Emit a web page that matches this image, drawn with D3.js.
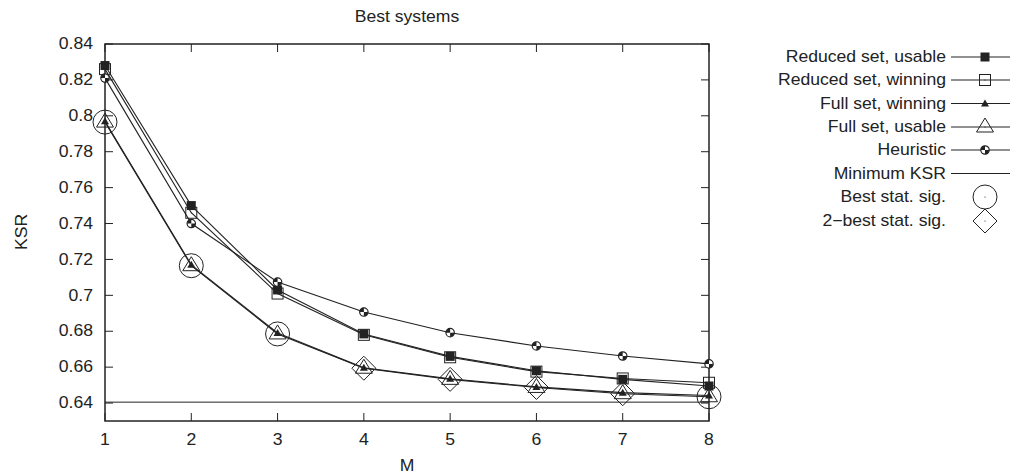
<!DOCTYPE html>
<html>
<head>
<meta charset="utf-8">
<script src="https://cdn.jsdelivr.net/npm/d3@7"></script>
<style>
  body { margin: 0; background: #fff; }
  text { font-family: "Liberation Sans", Arial, sans-serif; font-size: 16px; fill: #222; }
</style>
</head>
<body>
<script>
// values
var mValues = [1, 2, 3, 4, 5, 6, 7, 8];
var reducedUsable  = [0.828, 0.750, 0.703, 0.6785, 0.666, 0.658, 0.6532, 0.6495];
var reducedWinning = [0.826, 0.746, 0.701, 0.678, 0.6655, 0.6575, 0.6537, 0.6513];
var fullWinning    = [0.797, 0.717, 0.679, 0.6596, 0.6535, 0.649, 0.6458, 0.6442];
var fullUsable     = [0.7965, 0.7165, 0.6785, 0.6594, 0.6532, 0.6487, 0.6452, 0.6435];
var heuristic      = [0.821, 0.740, 0.7074, 0.6907, 0.6792, 0.6718, 0.6662, 0.6618];
var minimumKSR = 0.6405;
var bestSig = [1, 2, 3, 8];
var secondBestSig = [4, 5, 6, 7];
var yTicks = [0.64, 0.66, 0.68, 0.7, 0.72, 0.74, 0.76, 0.78, 0.8, 0.82, 0.84];
var legendLabels = ['Reduced set, usable', 'Reduced set, winning', 'Full set, winning',
  'Full set, usable', 'Heuristic', 'Minimum KSR', 'Best stat. sig.', '2\u2212best stat. sig.'];

var ink = '#222';

var svg = d3.select('body').append('svg')
    .attr('width', 1013)
    .attr('height', 474);

var x = d3.scaleLinear().domain([1, 8]).range([105, 709]);
var y = d3.scaleLinear().domain([0.63, 0.84]).range([421, 44]);

function label(str, px, py, anchor, rot) {
  svg.append('text')
    .attr('transform', 'translate(' + px + ',' + py + ')' + (rot ? ' rotate(' + rot + ')' : '') + ' scale(1.1,1)')
    .attr('text-anchor', anchor)
    .attr('dominant-baseline', 'central')
    .text(str);
}

// frame
svg.append('rect')
    .attr('x', x(1)).attr('y', y(0.84))
    .attr('width', x(8) - x(1)).attr('height', y(0.63) - y(0.84))
    .attr('fill', 'none').attr('stroke', ink).attr('stroke-width', 1.5);

// ticks, mirrored on both sides
var tl = 8;
yTicks.forEach(function(t) {
  svg.append('line').attr('x1', x(1)).attr('x2', x(1) + tl).attr('y1', y(t)).attr('y2', y(t)).attr('stroke', ink);
  svg.append('line').attr('x1', x(8)).attr('x2', x(8) - tl).attr('y1', y(t)).attr('y2', y(t)).attr('stroke', ink);
  label(String(+t.toFixed(2)), 93, y(t), 'end');
});
mValues.forEach(function(m) {
  svg.append('line').attr('x1', x(m)).attr('x2', x(m)).attr('y1', y(0.63)).attr('y2', y(0.63) - tl).attr('stroke', ink);
  svg.append('line').attr('x1', x(m)).attr('x2', x(m)).attr('y1', y(0.84)).attr('y2', y(0.84) + tl).attr('stroke', ink);
  label(String(m), x(m), 440, 'middle');
});

label('Best systems', 407, 17, 'middle');
label('M', 407, 466, 'middle');
label('KSR', 22, 232, 'middle', -90);

// marker drawing
function marker(g, kind, cx, cy) {
  if (kind === 'fsq') {
    g.append('rect').attr('x', cx - 4.5).attr('y', cy - 4.5).attr('width', 9).attr('height', 9).attr('fill', ink);
  } else if (kind === 'osq') {
    g.append('rect').attr('x', cx - 5.5).attr('y', cy - 5.5).attr('width', 11).attr('height', 11)
      .attr('fill', 'none').attr('stroke', ink);
    g.append('circle').attr('cx', cx).attr('cy', cy).attr('r', 0.6).attr('fill', ink);
  } else if (kind === 'ftri') {
    g.append('path').attr('d', 'M' + (cx - 4) + ',' + (cy + 3) + 'L' + (cx + 4) + ',' + (cy + 3) + 'L' + cx + ',' + (cy - 4) + 'Z')
      .attr('fill', ink);
  } else if (kind === 'otri') {
    g.append('path').attr('d', 'M' + (cx - 8.5) + ',' + (cy + 5) + 'L' + (cx + 8.5) + ',' + (cy + 5) + 'L' + cx + ',' + (cy - 9) + 'Z')
      .attr('fill', 'none').attr('stroke', ink);
    g.append('circle').attr('cx', cx).attr('cy', cy).attr('r', 0.6).attr('fill', ink);
  } else if (kind === 'heur') {
    var r = 4.2;
    g.append('circle').attr('cx', cx).attr('cy', cy).attr('r', r).attr('fill', '#fff').attr('stroke', ink).attr('stroke-width', 1.2);
    g.append('path').attr('d', 'M' + cx + ',' + cy + 'L' + (cx - r) + ',' + cy + 'A' + r + ',' + r + ' 0 0,1 ' + cx + ',' + (cy - r) + 'Z').attr('fill', ink);
    g.append('path').attr('d', 'M' + cx + ',' + cy + 'L' + (cx + r) + ',' + cy + 'A' + r + ',' + r + ' 0 0,1 ' + cx + ',' + (cy + r) + 'Z').attr('fill', ink);
  } else if (kind === 'bigc') {
    g.append('circle').attr('cx', cx).attr('cy', cy).attr('r', 12).attr('fill', 'none').attr('stroke', ink);
    g.append('circle').attr('cx', cx).attr('cy', cy).attr('r', 0.6).attr('fill', ink);
  } else if (kind === 'diam') {
    g.append('path').attr('d', 'M' + cx + ',' + (cy - 12) + 'L' + (cx + 12) + ',' + cy + 'L' + cx + ',' + (cy + 12) + 'L' + (cx - 12) + ',' + cy + 'Z')
      .attr('fill', 'none').attr('stroke', ink);
    g.append('circle').attr('cx', cx).attr('cy', cy).attr('r', 0.6).attr('fill', ink);
  }
}

var series = [
  { vals: reducedUsable, kind: 'fsq' },
  { vals: reducedWinning, kind: 'osq' },
  { vals: fullWinning, kind: 'ftri' },
  { vals: fullUsable, kind: 'otri' },
  { vals: heuristic, kind: 'heur' }
];

var line = d3.line().x(function(d) { return x(d[0]); }).y(function(d) { return y(d[1]); });

// minimum KSR line
svg.append('line').attr('x1', x(1)).attr('x2', x(8)).attr('y1', y(minimumKSR)).attr('y2', y(minimumKSR))
    .attr('stroke', ink).attr('stroke-width', 1);

series.forEach(function(s) {
  var pts = mValues.map(function(m, i) { return [m, s.vals[i]]; });
  svg.append('path').datum(pts).attr('d', line).attr('fill', 'none').attr('stroke', ink).attr('stroke-width', 1.1);
});
series.forEach(function(s) {
  var g = svg.append('g');
  mValues.forEach(function(m, i) { marker(g, s.kind, x(m), y(s.vals[i])); });
});

var sigG = svg.append('g');
bestSig.forEach(function(m) { marker(sigG, 'bigc', x(m), y(fullUsable[m - 1])); });
secondBestSig.forEach(function(m) { marker(sigG, 'diam', x(m), y(fullUsable[m - 1])); });

// legend
var legendKinds = ['fsq', 'osq', 'ftri', 'otri', 'heur', 'none', 'bigc', 'diam'];
var legendY = [57, 80, 103.5, 127, 150, 173.5, 197, 221];
var lg = svg.append('g');
legendLabels.forEach(function(t, i) {
  label(t, 946, legendY[i], 'end');
  if (i < 6) {
    lg.append('line').attr('x1', 951).attr('x2', 1010).attr('y1', legendY[i]).attr('y2', legendY[i])
      .attr('stroke', ink).attr('stroke-width', 1.1);
  }
  marker(lg, legendKinds[i], 985, legendY[i]);
});
</script>
</body>
</html>
